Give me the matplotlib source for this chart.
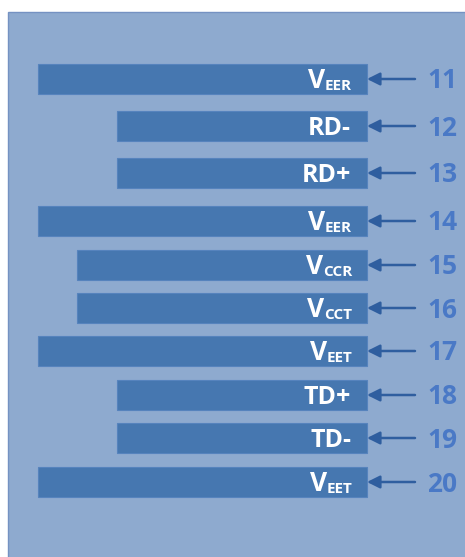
import numpy as np
import matplotlib.pyplot as plt
from matplotlib.patches import Rectangle

# pins, labels and bar extents (in picture units, 0..465 wide)
pins = [11, 12, 13, 14, 15, 16, 17, 18, 19, 20]
labels = ['V', 'RD-', 'RD+', 'V', 'V', 'V', 'V', 'TD+', 'TD-', 'V']
subs = ['EER', '', '', 'EER', 'CCR', 'CCT', 'EET', '', '', 'EET']
bar_start = [38, 117, 117, 38, 77, 77, 38, 117, 117, 38]
bar_end = 367
rows = [79, 126, 173, 221, 265, 308, 351, 395, 438, 482]

bg = '#8eaacf'
bar_c = '#4677b0'
num_c = '#4a79c6'
arrow_c = '#2f5e9f'

fig = plt.figure(figsize=(4.65, 5.57), dpi=100)
fig.patch.set_facecolor('white')
ax = fig.add_axes([0, 0, 1, 1])
ax.set_xlim(0, 465)
ax.set_ylim(557, 0)
ax.axis('off')

ax.add_patch(Rectangle((8, 12), 460, 550, facecolor=bg, edgecolor='#7592c2', lw=1))

ax.barh(rows, [bar_end - s for s in bar_start], left=bar_start, height=30,
        color=bar_c, edgecolor='#5683bd', lw=0.8)

fig.canvas.draw()
r = fig.canvas.get_renderer()
inv = ax.transData.inverted()

for y, lab, sub, p in zip(rows, labels, subs, pins):
    if sub:
        t = ax.text(352, y + 11, sub, color='white', fontsize=11, fontweight='bold',
                    family='Open Sans', ha='right', va='baseline')
        bb = t.get_window_extent(r)
        x0 = inv.transform((bb.x0, bb.y0))[0]
        ax.text(x0 + 0.5, y + 9, lab, color='white', fontsize=19, fontweight='bold',
                family='Open Sans', ha='right', va='baseline')
    else:
        ax.text(351, y + 9, lab, color='white', fontsize=18, fontweight='bold',
                family='Open Sans', ha='right', va='baseline')
    ax.annotate('', xy=(bar_end, y), xytext=(415, y),
                arrowprops=dict(arrowstyle='-|>', color=arrow_c, lw=1.8,
                                mutation_scale=19, shrinkA=0, shrinkB=0))
    ax.text(427, y + 9.5, str(p), color=num_c, fontsize=19, fontweight='bold',
            family='Open Sans', ha='left', va='baseline')

fig.savefig('out.png', dpi=100)
